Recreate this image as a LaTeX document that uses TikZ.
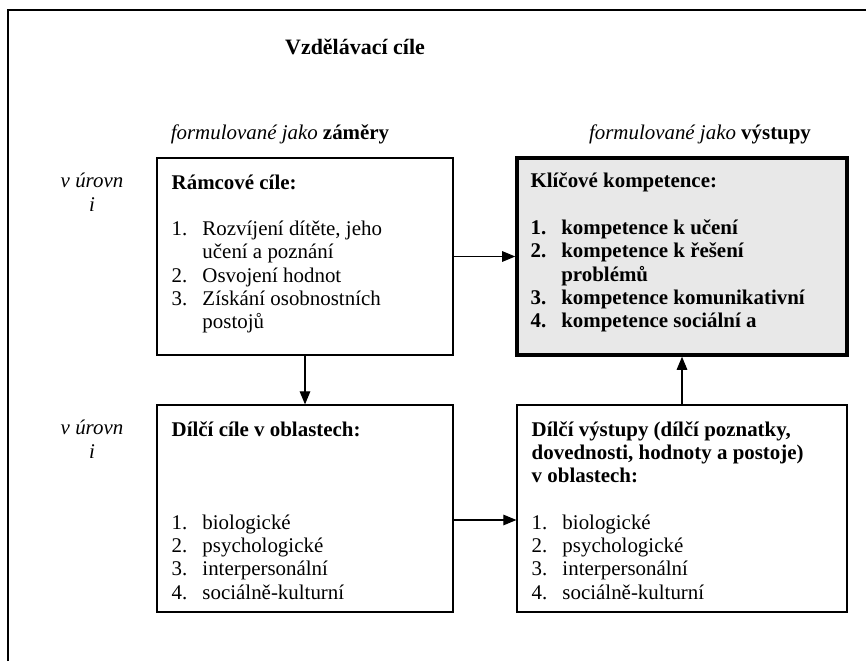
\documentclass[tikz,border=0pt]{standalone}
\usepackage{fontspec}
\setmainfont{Liberation Serif}
\usetikzlibrary{arrows.meta,positioning}
\definecolor{KeyGray}{HTML}{E8E8E8}
\tikzset{
  base/.style={font=\fontsize{11.9}{13.26}\selectfont},
  lbox/.style={rectangle,draw=black,line width=0.7pt,minimum width=5.92cm,inner sep=0pt},
  rbox/.style={rectangle,draw=black,line width=0.7pt,minimum width=6.60cm,inner sep=0pt},
  kbox/.style={rbox,line width=2pt,fill=KeyGray},
  ptxt/.style={base,anchor=north west,inner sep=0pt},
  lvl/.style={anchor=north,inner sep=0pt,align=center,font=\fontsize{11.9}{13.26}\selectfont\itshape},
  arr/.style={-{Triangle[length=7.4pt,width=6pt]},line width=0.6pt},
}

\begin{document}
\begin{tikzpicture}
  \useasboundingbox (0,0) rectangle (17.32,13.22);

  \draw[line width=1pt] (0.16,0) -- (0.16,13.02) -- (17.32,13.02);

  \node[font=\fontsize{12.5}{14}\selectfont\bfseries] (titul) at (7.10,12.28) {Vzdělávací cíle};
  \node[base] (hzamery) at (5.60,10.54) {\textit{formulované jako} \textbf{záměry}};
  \node[base] (hvystupy) at (14.00,10.54) {\textit{formulované jako} \textbf{výstupy}};

  \node[lbox,minimum height=3.94cm] (ramcove) at (6.10,8.09) {};
  \node[kbox,minimum height=3.94cm] (klicove) at (13.64,8.09) {};
  \node[lbox,minimum height=4.14cm] (dilci) at (6.10,3.05) {};
  \node[rbox,minimum height=4.14cm] (vystupy) at (13.64,3.05) {};

  \node[lvl] (urovenA) at (1.84,9.76) {v úrovn\\i};
  \node[lvl] (urovenB) at (1.84,4.82) {v úrovn\\i};

  \node[ptxt] (tramcove) at ([xshift=0.30cm,yshift=-0.30cm]ramcove.north west) {%
    \begin{tabular}{@{}p{17.5pt}@{}l@{}}
      \multicolumn{2}{@{}l@{}}{\textbf{Rámcové cíle:}}\\
      \\
      1. & Rozvíjení dítěte, jeho\\
         & učení a poznání\\
      2. & Osvojení hodnot\\
      3. & Získání osobnostních\\
         & postojů
    \end{tabular}};

  \node[ptxt,font=\fontsize{11.9}{13.26}\selectfont\bfseries] (tklicove) at ([xshift=0.30cm,yshift=-0.30cm]klicove.north west) {%
    \begin{tabular}{@{}p{17.5pt}@{}l@{}}
      \multicolumn{2}{@{}l@{}}{Klíčové kompetence:}\\
      \\
      1. & kompetence k učení\\
      2. & kompetence k řešení\\
         & problémů\\
      3. & kompetence komunikativní\\
      4. & kompetence sociální a
    \end{tabular}};

  \node[ptxt] (tdilci) at ([xshift=0.30cm,yshift=-0.30cm]dilci.north west) {%
    \begin{tabular}{@{}p{17.5pt}@{}l@{}}
      \multicolumn{2}{@{}l@{}}{\textbf{Dílčí cíle v oblastech:}}\\
      \\
      \\
      \\
      1. & biologické\\
      2. & psychologické\\
      3. & interpersonální\\
      4. & sociálně-kulturní
    \end{tabular}};

  \node[ptxt] (tvystupy) at ([xshift=0.30cm,yshift=-0.30cm]vystupy.north west) {%
    \begin{tabular}{@{}p{17.5pt}@{}l@{}}
      \multicolumn{2}{@{}l@{}}{\textbf{Dílčí výstupy (dílčí poznatky,}}\\
      \multicolumn{2}{@{}l@{}}{\textbf{dovednosti, hodnoty a postoje)}}\\
      \multicolumn{2}{@{}l@{}}{\textbf{v oblastech:}}\\
      \\
      1. & biologické\\
      2. & psychologické\\
      3. & interpersonální\\
      4. & sociálně-kulturní
    \end{tabular}};

  \draw[arr] (ramcove) -- (klicove);
  \draw[arr] (ramcove) -- (dilci);
  \draw[arr] (vystupy) -- (klicove);
  \draw[arr] ([yshift=-0.23cm]dilci.east) -- ([yshift=-0.23cm]vystupy.west);

\end{tikzpicture}
\end{document}
